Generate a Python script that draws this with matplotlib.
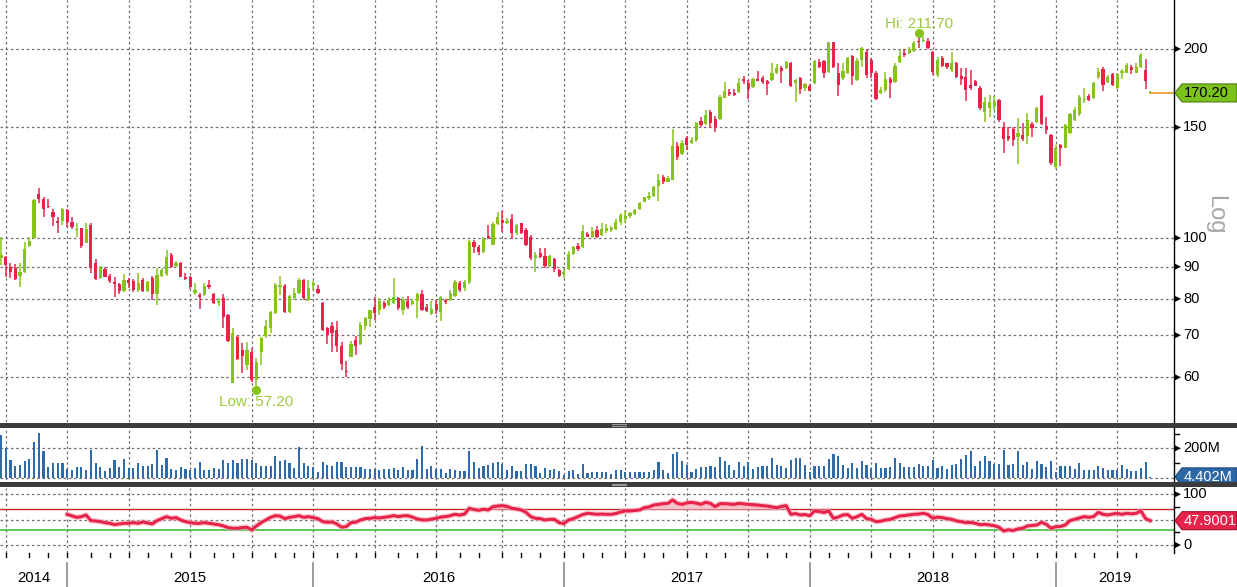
import numpy as np
import pandas as pd
import matplotlib
matplotlib.use("Agg")
import matplotlib.pyplot as plt
from matplotlib.patches import Polygon, Rectangle
from matplotlib.lines import Line2D
from matplotlib.transforms import blended_transform_factory, offset_copy
from matplotlib import font_manager

# ---------------- data (weekly bars) ----------------
start_date = "2014-09-26"
n_weeks = 244
dates = pd.date_range(start_date, periods=n_weeks, freq="W-FRI")

opens = [
    92.9, 93.1, 90.0, 89.5, 87.1, 88.4, 97.1, 99.9, 117.5, 115.5,
    112.4, 110.1, 106.5, 106.5, 110.8, 106.2, 103.0, 103.6, 98.3, 104.9,
    91.3, 86.3, 89.2, 87.1, 85.2, 84.5, 82.2, 85.7, 85.4, 82.5,
    85.7, 82.2, 86.3, 81.4, 87.1, 87.6, 93.9, 90.3, 91.1, 86.8,
    86.6, 81.8, 81.0, 81.2, 84.2, 81.4, 78.7, 80.3, 75.4, 58.7,
    69.6, 66.3, 62.8, 65.9, 59.4, 65.9, 69.9, 72.0, 75.9, 83.7,
    84.0, 76.1, 80.2, 81.8, 85.7, 79.8, 84.1, 82.8, 78.8, 71.8,
    72.4, 71.4, 67.2, 61.5, 64.7, 68.8, 67.9, 72.4, 74.3, 77.6,
    76.8, 78.8, 78.2, 78.8, 80.2, 76.8, 79.5, 78.5, 79.3, 81.3,
    77.7, 75.6, 78.5, 76.1, 79.5, 79.7, 80.9, 84.9, 83.2, 85.2,
    98.7, 96.6, 94.9, 100.7, 97.5, 105.3, 106.8, 105.6, 107.1, 101.7,
    105.5, 103.0, 100.5, 92.8, 94.8, 93.6, 90.2, 92.5, 88.9, 87.6,
    89.2, 94.3, 97.1, 96.6, 101.5, 100.5, 103.0, 101.1, 102.7, 102.9,
    103.2, 106.2, 107.1, 108.4, 109.2, 111.1, 114.2, 115.7, 116.8, 121.0,
    125.2, 122.9, 123.7, 139.9, 136.0, 144.5, 141.7, 143.0, 153.7, 151.8,
    158.6, 154.5, 154.9, 167.3, 171.0, 170.4, 171.0, 179.0, 176.5, 174.0,
    178.9, 179.6, 178.1, 178.4, 183.3, 186.8, 186.8, 189.8, 176.5, 179.6,
    173.5, 174.9, 176.3, 190.9, 191.3, 184.1, 204.9, 182.9, 180.0, 183.3,
    194.8, 178.5, 191.8, 198.0, 192.1, 183.3, 170.3, 171.8, 178.9, 177.3,
    190.5, 197.2, 197.2, 198.6, 205.5, 205.6, 206.0, 197.9, 181.5, 193.4,
    189.6, 185.2, 190.0, 181.2, 180.6, 175.2, 177.6, 173.5, 158.9, 161.3,
    162.2, 165.9, 150.2, 145.4, 149.3, 144.6, 146.0, 145.4, 152.0, 153.2,
    168.2, 150.5, 146.0, 129.8, 140.8, 139.3, 147.0, 154.1, 157.3, 165.9,
    168.2, 166.8, 180.6, 185.8, 177.0, 182.3, 173.1, 183.3, 183.3, 187.4,
    183.3, 187.1, 185.2, 170.0]

highs = [
    100.4, 93.6, 91.2, 90.9, 91.2, 98.7, 100.5, 115.5, 120.1, 116.4,
    115.4, 111.2, 108.1, 111.5, 111.1, 108.1, 105.8, 103.6, 105.8, 105.8,
    92.5, 90.1, 89.8, 87.6, 86.8, 84.9, 87.6, 86.3, 86.0, 88.0,
    86.2, 85.4, 87.0, 89.5, 89.5, 95.7, 94.5, 92.0, 91.6, 88.0,
    87.0, 84.8, 81.8, 84.7, 85.7, 81.8, 80.1, 81.4, 75.7, 71.8,
    69.9, 68.0, 68.4, 66.7, 64.5, 69.6, 74.0, 76.4, 84.7, 87.0,
    84.4, 81.2, 83.2, 86.2, 86.0, 85.7, 85.5, 84.1, 79.0, 72.1,
    73.6, 73.7, 68.2, 63.7, 68.5, 69.9, 73.4, 74.9, 76.8, 80.6,
    80.2, 79.3, 80.6, 86.2, 80.6, 80.4, 80.9, 80.0, 81.6, 82.6,
    78.6, 79.3, 79.8, 80.9, 80.0, 82.6, 85.7, 85.5, 85.7, 99.3,
    99.3, 97.5, 100.2, 104.9, 106.2, 110.1, 110.5, 107.5, 109.2, 105.4,
    105.8, 103.6, 101.1, 95.1, 96.3, 96.3, 94.0, 93.0, 89.2, 89.2,
    95.2, 97.0, 98.1, 104.9, 102.3, 104.2, 104.5, 105.8, 105.4, 104.5,
    107.1, 109.7, 110.5, 110.1, 111.4, 114.3, 116.4, 118.5, 121.0, 126.4,
    125.9, 125.4, 149.1, 142.3, 143.2, 145.4, 144.8, 152.8, 155.6, 160.0,
    159.9, 156.4, 169.1, 177.2, 172.9, 172.9, 179.6, 180.8, 178.5, 179.6,
    184.4, 180.8, 178.5, 190.0, 189.1, 187.7, 191.3, 190.6, 178.9, 180.4,
    176.8, 175.6, 192.1, 192.7, 191.8, 205.0, 205.5, 190.0, 189.6, 194.2,
    195.5, 193.5, 201.6, 199.6, 193.5, 184.7, 173.9, 183.5, 180.6, 189.6,
    199.3, 199.6, 201.5, 205.8, 211.7, 208.8, 208.4, 198.6, 194.0, 194.8,
    190.0, 197.9, 190.9, 186.5, 186.5, 184.9, 178.5, 174.5, 167.9, 169.1,
    168.5, 166.3, 153.2, 150.2, 150.2, 155.1, 152.3, 157.9, 153.2, 161.5,
    168.7, 156.0, 146.5, 140.6, 141.2, 151.9, 157.9, 161.5, 169.1, 173.0,
    169.3, 177.4, 186.3, 187.1, 181.9, 183.3, 182.8, 185.6, 189.6, 188.8,
    189.6, 196.7, 192.5, 171.6]

lows = [
    90.6, 86.7, 86.4, 85.7, 83.5, 88.0, 96.9, 99.5, 113.7, 107.9,
    111.6, 104.5, 101.7, 105.0, 104.0, 103.2, 100.5, 96.3, 98.0, 88.0,
    85.8, 85.9, 86.6, 84.7, 80.4, 81.5, 81.9, 83.1, 81.9, 81.9,
    81.9, 81.9, 79.6, 78.2, 86.8, 87.1, 89.5, 89.9, 86.6, 85.7,
    82.9, 81.0, 77.0, 80.9, 82.8, 78.5, 78.0, 71.8, 68.4, 58.7,
    63.9, 60.9, 61.6, 59.0, 57.2, 62.8, 69.3, 70.5, 75.6, 81.2,
    75.9, 75.9, 79.7, 81.5, 79.7, 79.5, 82.6, 81.3, 71.2, 67.9,
    65.9, 65.9, 61.6, 60.1, 64.7, 65.1, 67.6, 71.4, 72.2, 74.0,
    75.4, 77.1, 77.9, 78.5, 76.9, 75.4, 77.1, 78.1, 74.5, 76.6,
    76.2, 75.4, 75.8, 73.8, 78.5, 79.3, 80.6, 82.0, 82.3, 84.5,
    94.8, 93.9, 94.6, 99.5, 97.5, 104.9, 102.3, 105.3, 99.5, 101.0,
    101.5, 97.1, 92.2, 88.4, 92.8, 89.5, 89.9, 88.4, 86.6, 86.5,
    88.9, 93.8, 95.5, 96.3, 100.2, 99.9, 99.9, 100.7, 101.9, 102.3,
    103.0, 104.9, 106.2, 107.5, 108.8, 110.8, 113.9, 115.0, 116.4, 114.7,
    122.1, 122.6, 123.5, 133.1, 135.5, 138.1, 140.9, 142.2, 150.2, 151.5,
    149.7, 147.6, 154.3, 167.1, 168.3, 168.3, 170.0, 176.0, 166.2, 173.3,
    177.5, 176.0, 169.1, 177.8, 182.5, 176.5, 186.1, 174.0, 164.8, 169.3,
    171.6, 171.2, 176.0, 186.3, 179.6, 183.4, 186.3, 168.4, 178.5, 182.2,
    175.4, 177.5, 187.5, 179.6, 180.0, 166.0, 169.7, 171.0, 167.1, 176.8,
    190.0, 194.0, 196.3, 198.0, 200.6, 204.9, 200.0, 181.5, 180.4, 186.9,
    186.1, 184.1, 180.0, 175.2, 165.4, 171.8, 174.3, 159.7, 153.2, 156.0,
    159.7, 153.2, 136.7, 142.8, 140.0, 131.2, 142.8, 141.0, 145.0, 152.7,
    151.2, 146.5, 130.7, 129.0, 130.0, 139.0, 146.5, 153.7, 156.4, 164.2,
    165.0, 166.2, 179.4, 171.6, 176.3, 174.5, 172.4, 179.0, 182.8, 182.6,
    182.8, 186.3, 172.6, 169.8]

closes = [
    93.9, 90.6, 88.4, 86.0, 88.4, 96.0, 98.9, 115.0, 115.3, 111.3,
    111.9, 108.1, 105.5, 111.1, 106.2, 104.0, 103.2, 97.1, 103.2, 89.5,
    85.9, 89.5, 86.8, 85.5, 84.5, 82.2, 85.7, 84.9, 82.5, 84.9,
    82.2, 85.0, 81.4, 87.3, 88.9, 93.4, 89.9, 91.3, 86.8, 86.0,
    83.7, 82.6, 80.4, 83.9, 83.5, 78.7, 79.3, 74.9, 68.6, 70.5,
    64.1, 64.9, 66.3, 59.4, 63.5, 69.4, 72.4, 76.1, 84.2, 84.0,
    76.1, 80.9, 81.8, 85.7, 80.2, 83.1, 84.8, 81.6, 71.4, 70.1,
    70.5, 67.4, 63.1, 61.2, 67.8, 67.2, 72.8, 74.6, 76.8, 76.0,
    79.3, 77.6, 79.7, 80.4, 77.3, 79.7, 77.5, 79.4, 81.4, 76.8,
    76.5, 77.2, 76.8, 80.4, 79.2, 81.6, 85.2, 82.6, 85.2, 98.7,
    96.9, 95.1, 99.5, 99.9, 105.3, 107.9, 105.5, 106.4, 102.0, 104.9,
    102.0, 97.5, 92.8, 94.0, 93.4, 90.2, 93.6, 89.2, 87.1, 88.4,
    94.3, 96.6, 95.9, 102.7, 100.5, 102.6, 100.5, 103.4, 103.6, 103.6,
    106.2, 108.7, 108.4, 109.5, 110.8, 113.6, 116.0, 116.6, 120.7, 123.7,
    122.6, 124.7, 139.9, 134.6, 141.7, 140.7, 143.2, 152.3, 151.3, 157.0,
    152.3, 150.2, 167.9, 171.4, 169.6, 168.8, 176.5, 177.5, 172.4, 178.9,
    178.1, 177.0, 175.6, 183.3, 186.8, 184.5, 190.5, 174.7, 178.5, 172.6,
    175.9, 171.7, 191.4, 187.1, 183.4, 204.9, 187.1, 175.2, 184.4, 193.6,
    181.2, 191.4, 200.4, 181.6, 183.1, 166.5, 172.1, 178.9, 176.7, 188.2,
    194.6, 195.3, 199.7, 204.7, 204.8, 207.0, 201.0, 184.1, 192.1, 188.2,
    187.1, 189.6, 180.6, 179.4, 172.1, 173.1, 174.9, 161.3, 164.8, 164.8,
    164.8, 154.1, 143.9, 143.9, 143.4, 147.2, 143.9, 154.1, 149.7, 160.9,
    151.9, 148.6, 131.8, 138.9, 138.9, 151.3, 157.3, 160.0, 167.5, 166.6,
    165.6, 176.7, 184.1, 175.2, 180.6, 175.2, 182.3, 184.6, 188.6, 185.2,
    187.4, 195.5, 177.8, 170.2]

volume_m = [
    291, 200, 120, 79, 86, 115, 125, 245, 307, 184,
    74, 101, 101, 101, 56, 51, 74, 74, 51, 188,
    101, 74, 47, 63, 120, 74, 125, 63, 63, 101,
    81, 79, 92, 188, 86, 131, 56, 51, 70, 56,
    51, 63, 108, 51, 51, 63, 56, 120, 101, 120,
    101, 125, 125, 120, 97, 81, 81, 81, 147, 115,
    120, 97, 63, 207, 97, 79, 70, 40, 108, 86,
    79, 108, 108, 74, 74, 70, 70, 56, 56, 56,
    51, 56, 56, 63,
    50, 73, 54, 54, 127, 218, 59, 77, 59, 59,
    32, 59, 50, 45, 45, 182, 104, 68, 82, 86,
    100, 104, 93, 54, 77, 43, 43, 95, 95, 77,
    32, 68, 54, 59, 43, 20, 45, 50, 23, 91,
    32, 36, 41, 36, 41, 23, 54, 54, 36, 36,
    36, 41, 41, 36, 50, 104, 50, 32, 163, 173,
    111, 86, 41, 59, 70, 70, 77, 73, 141, 111,
    89, 54, 104, 77, 104, 59, 70, 77, 77, 134,
    86, 82, 68, 118, 132, 132, 86, 36, 82, 77,
    77, 127, 159, 145, 86, 68, 100, 68, 114, 86,
    64, 100, 68, 68, 73, 132, 100, 73, 73, 73,
    91, 82, 77, 118, 68, 77, 59, 86, 95, 127,
    154, 179, 82, 114, 145, 114, 91, 91, 186, 86,
    91, 182, 86, 104, 59, 114, 95, 73, 114, 41,
    77, 82, 82, 59, 100, 54, 50, 54, 77, 68,
    54, 50, 50, 86, 59, 45, 45, 68, 104, 4.402]

rsi = [None] * 14 + [
    60.5, 57.4, 54.5, 55.9, 59.2, 48.1, 47.4, 46.1, 44.1, 42.8,
    40.2, 41.5, 42.8, 42.8, 44.1, 42.8, 45.4, 43.5, 41.5, 48.1,
    52.0, 55.9, 52.6, 54.0, 49.3, 46.1, 44.1, 42.8, 42.8, 44.1,
    42.8, 41.5, 40.0, 37.6, 34.3, 33.0, 33.0, 34.3, 35.0, 29.7,
    37.6, 44.1, 49.3, 54.5, 57.8, 57.0, 52.0, 54.5, 55.9, 57.8,
    54.5, 55.9, 54.0, 52.0, 46.1, 44.8, 45.4, 41.5, 35.0, 36.3,
    44.1, 45.0, 49.3, 52.0, 52.6, 54.0, 53.3, 54.5, 55.9, 57.8,
    56.0, 57.5, 57.8, 55.0, 51.3, 49.5, 49.3, 51.0, 52.5, 55.0,
    56.0, 57.8, 60.5, 59.0, 61.0, 72.3, 70.0, 68.4, 70.5, 69.0,
    75.5, 76.9, 77.6, 76.0, 72.3, 71.0, 69.0, 64.4, 56.0, 52.6,
    52.0, 49.3, 50.6, 50.6, 44.0, 42.1, 49.3, 52.0, 55.9, 60.0,
    62.5, 61.5, 60.5, 61.0, 60.5, 60.5, 62.0, 65.0, 67.1, 67.1,
    68.0, 69.0, 73.6, 75.0, 78.9, 80.0, 81.5, 82.2, 88.8, 82.0,
    80.2, 83.0, 84.2, 82.5, 80.2, 84.2, 82.0, 75.6, 81.5, 81.5,
    80.9, 80.0, 82.2, 81.0, 80.2, 79.5, 78.9, 77.5, 76.9, 75.0,
    73.6, 76.0, 77.6, 60.5, 62.0, 59.2, 60.0, 57.8, 67.1, 66.0,
    64.0, 67.1, 52.6, 55.0, 59.2, 60.0, 52.6, 55.9, 60.5, 52.0,
    50.6, 46.0, 47.0, 49.3, 50.5, 53.9, 57.2, 58.0, 59.2, 60.5,
    61.0, 62.5, 60.0, 52.6, 55.0, 53.9, 52.0, 50.6, 47.5, 46.0,
    44.1, 44.5, 42.7, 40.0, 40.8, 39.5, 38.1, 35.0, 27.6, 30.0,
    28.5, 31.6, 33.0, 37.5, 38.5, 39.4, 44.7, 40.8, 32.9, 36.0,
    36.5, 39.4, 48.0, 50.6, 53.0, 55.9, 54.6, 56.0, 64.4, 60.5,
    59.2, 61.0, 62.5, 60.5, 62.5, 61.5, 62.5, 67.1, 52.0, 47.9]

price_ticks = [60, 70, 80, 90, 100, 150, 200]
hi_label = "Hi: 211.70"
low_label = "Low: 57.20"
last_price_label = "170.20"
last_volume_label = "4.402M"
last_rsi_value = 47.9001
last_rsi_label = "47.9001"
rsi_upper, rsi_lower = 70, 30

# ---------------- styling ----------------
GREEN = "#86c31b"
RED = "#e8234a"
BLUE = "#2f6ba6"
GRID = "#6e6e6e"
DOT = (0, (2, 2.2))

avail = {f.name for f in font_manager.fontManager.ttflist}
NARROW = next((f for f in ["Liberation Sans Narrow", "DejaVu Sans Condensed", "Liberation Sans"] if f in avail), "DejaVu Sans")

W, H = 1237, 587
fig = plt.figure(figsize=(W / 100, H / 100), dpi=100)
fig.patch.set_facecolor("white")


def F(px, py):
    return (px / W, 1 - py / H)


AX_R = 1174
ax = fig.add_axes([0, 1 - 422 / H, AX_R / W, 422 / H])
axv = fig.add_axes([0, 1 - 480 / H, AX_R / W, 52 / H])
axr = fig.add_axes([0, 1 - 553 / H, AX_R / W, 65 / H])

ax.set_yscale("log")
ax.set_ylim(50.93, 239.3)
axv.set_ylim(-17, 339)
axr.set_ylim(-15.8, 112.4)

XMIN, XMAX = -0.21, 248.0
for a in (ax, axv, axr):
    a.set_xlim(XMIN, XMAX)
    a.set_xticks([])
    a.set_xticks([], minor=True)
    a.set_yticks([])
    a.set_yticks([], minor=True)
    a.tick_params(which="both", left=False, bottom=False, labelleft=False, labelbottom=False)
    for s in a.spines.values():
        s.set_visible(False)
    a.set_facecolor("none")

o = np.array(opens)
h = np.array(highs)
l = np.array(lows)
c = np.array(closes)
x = np.arange(len(o))
h = np.maximum(h, np.maximum(o, c))
l = np.minimum(l, np.minimum(o, c))
up = c >= o
cols = np.where(up, GREEN, RED)

# ---- quarter grid / month ticks from dates ----
month_first = [i for i in range(1, len(dates)) if dates[i].month != dates[i - 1].month]
quarter_first = [i for i in month_first if dates[i].month in (1, 4, 7, 10)]
year_first = [i for i in month_first if dates[i].month == 1]

# main price panel
for v in price_ticks:
    ax.axhline(v, color=GRID, lw=0.9, ls=DOT, zorder=0)
for a in (ax, axv, axr):
    for q in quarter_first:
        a.axvline(q, color=GRID, lw=0.9, ls=DOT, zorder=0)

ax.vlines(x, l, h, colors=cols, lw=1.1, zorder=2)
bot = np.minimum(o, c)
top = np.maximum(o, c)
hgt = np.maximum(top - bot, bot * 0.005)
ax.bar(x, hgt, bottom=bot, width=0.68, color=cols, lw=0, zorder=3)

# last price line
ax.plot([x[-1], XMAX], [c[-1], c[-1]], color="#f0a030", lw=1.3, zorder=2, clip_on=False)

# hi / low markers
ihi = int(np.argmax(h))
ilo = int(np.argmin(l))
ax.plot([ihi], [h[ihi]], "o", color=GREEN, ms=5.5, zorder=5)
ax.plot([ilo], [l[ilo]], "o", color=GREEN, ms=5.5, zorder=5)
ax.text(ihi, h[ihi], hi_label, transform=offset_copy(ax.transData, fig=fig, x=0, y=9, units="dots"),
        ha="center", va="center", color="#9acb3c", fontsize=11, family=NARROW)
ax.text(ilo, l[ilo], low_label, transform=offset_copy(ax.transData, fig=fig, x=0, y=-12, units="dots"),
        ha="center", va="center", color="#9acb3c", fontsize=11, family=NARROW)

# volume panel
axv.axhline(200, color=GRID, lw=0.9, ls=DOT, zorder=0)
axv.axhline(0, color=GRID, lw=0.9, ls=DOT, zorder=0)
axv.bar(x, volume_m, width=0.45, color=BLUE, lw=0, zorder=2)

# RSI panel
r = np.array([np.nan if v is None else v for v in rsi], dtype=float)
for v in (0, 50, 100):
    axr.axhline(v, color=GRID, lw=0.9, ls=DOT, zorder=0)
axr.axhline(rsi_upper, color="#c8252b", lw=1.0, zorder=1)
axr.axhline(rsi_lower, color="#3cc03c", lw=1.2, zorder=1)
axr.fill_between(x, r, rsi_upper, where=r > rsi_upper, interpolate=True, color="#f7c3cc", lw=0, zorder=1)
axr.fill_between(x, r, rsi_lower, where=r < rsi_lower, interpolate=True, color="#9c7a2c", lw=0, zorder=1)
axr.plot(x, r, color="#f4a8b6", lw=4.0, alpha=0.6, zorder=2, solid_capstyle="round")
axr.plot(x, r, color=RED, lw=2.2, zorder=3, solid_joinstyle="round")

# ---- right axis: line, arrow ticks, labels ----
fig.add_artist(Line2D([AX_R / W, AX_R / W], [1 - 553 / H, 1], transform=fig.transFigure, color="black", lw=1.0))
fig.canvas.draw()


def fig_y(a, v):
    """figure-fraction y of data value v on axes a"""
    return a.transData.transform((0, v))[1] / H


def right_tick(a, v, label, minor=False):
    yf = fig_y(a, v)
    if minor:
        fig.add_artist(Line2D([AX_R / W, (AX_R + 5) / W], [yf, yf], transform=fig.transFigure,
                              color="black", lw=1))
        return
    fig.add_artist(Polygon([((AX_R + 0.5) / W, yf + 3.2 / H), ((AX_R + 0.5) / W, yf - 3.2 / H),
                            ((AX_R + 7) / W, yf)], closed=True, transform=fig.transFigure,
                           fc="black", ec="none"))
    fig.text((AX_R + 9) / W, yf, label, ha="left", va="center", fontsize=10.5,
             family=NARROW, color="black")


for v in price_ticks:
    right_tick(ax, v, str(v))
right_tick(axv, 200, "200M")
right_tick(axv, 100, "", minor=True)
right_tick(axv, 300, "", minor=True)
right_tick(axr, 100, "100")
right_tick(axr, 0, "0")
right_tick(axr, 25, "", minor=True)
right_tick(axr, 75, "", minor=True)

fig.text(*F(1215, 215), "Log", rotation=270, fontsize=17, color="#a6a6a6",
         family="Liberation Sans", ha="center", va="center")


# ---- value tags ----
def tag(a, v, label, fc, tc, ec):
    yc = H - a.transData.transform((0, v))[1]
    hh = 9
    pts = [F(1175, yc), F(1182, yc - hh), F(1237, yc - hh), F(1237, yc + hh), F(1182, yc + hh)]
    fig.add_artist(Polygon(pts, closed=True, transform=fig.transFigure, fc=fc, ec=ec, lw=0.8, zorder=10))
    fig.text(*F(1184, yc), label, color=tc, fontsize=10.5, family=NARROW, va="center", ha="left", zorder=11)


tag(ax, c[-1], last_price_label, "#7cc21c", "black", "#4a7a10")
tag(axv, volume_m[-1], last_volume_label, "#2c68a8", "white", "#1d4a7a")
tag(axr, last_rsi_value, last_rsi_label, "#e8234a", "white", "#a01030")

# ---- panel separators ----
for y0, y1 in ((422.5, 427.5), (482.0, 487.0)):
    fig.add_artist(Rectangle(F(0, y1), 1, (y1 - y0) / H, transform=fig.transFigure,
                             fc="#3b3b3b", ec="none", zorder=20))
    for yy in (y0 + 1.6, y0 + 3.2):
        fig.add_artist(Line2D([612 / W, 626 / W], [1 - yy / H] * 2, transform=fig.transFigure,
                              color="#9a9a9a", lw=0.8, zorder=21))

# ---- bottom date axis ----
trb = blended_transform_factory(axr.transData, axr.transAxes)
for i in month_first:
    axr.plot([i, i], [0, -4 / 65], color="black", lw=1, transform=trb, clip_on=False)
bounds = [XMIN] + year_first + [XMAX]
years = [dates[0].year] + [dates[i].year for i in year_first]
for i in year_first:
    axr.plot([i, i], [-10 / 65, -34 / 65], color="#8a8a8a", lw=1.2, transform=trb, clip_on=False)
for k, yr in enumerate(years):
    mid = 0.5 * (bounds[k] + bounds[k + 1])
    axr.text(mid, -25 / 65, str(yr), transform=trb, ha="center", va="center",
             fontsize=10.7, family=NARROW, color="black", clip_on=False)

fig.savefig("out.png", dpi=100, facecolor="white")
